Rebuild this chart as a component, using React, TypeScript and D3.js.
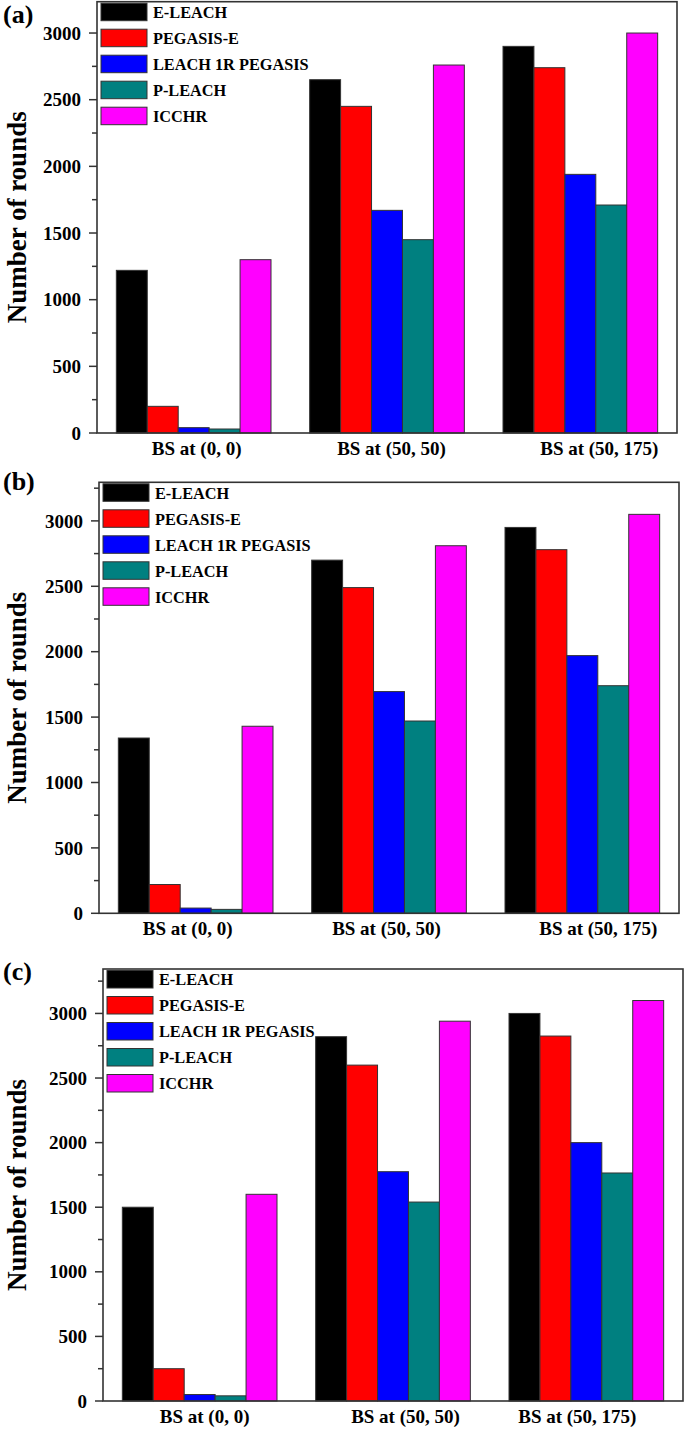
import React from "react";
import * as d3 from "d3";

const categories = ["BS at (0, 0)", "BS at (50, 50)", "BS at (50, 175)"];
const seriesNames = ["E-LEACH", "PEGASIS-E", "LEACH 1R PEGASIS", "P-LEACH", "ICCHR"];
const seriesColors = ["#000000", "#ff0000", "#0000ff", "#008080", "#ff00ff"];

// Panel (a)
const aELeach = [1220, 2650, 2900];
const aPegasisE = [200, 2450, 2740];
const aLeach1R = [40, 1670, 1940];
const aPLeach = [30, 1450, 1710];
const aIcchr = [1300, 2760, 3000];
// Panel (b)
const bELeach = [1340, 2700, 2950];
const bPegasisE = [220, 2490, 2780];
const bLeach1R = [40, 1695, 1970];
const bPLeach = [30, 1470, 1740];
const bIcchr = [1430, 2810, 3050];
// Panel (c)
const cELeach = [1500, 2820, 3000];
const cPegasisE = [250, 2600, 2825];
const cLeach1R = [50, 1775, 2000];
const cPLeach = [40, 1540, 1765];
const cIcchr = [1600, 2940, 3100];

const majorTicks = [0, 500, 1000, 1500, 2000, 2500, 3000];
const minorTicks = [250, 750, 1250, 1750, 2250, 2750, 3250];

const FONT = "'Liberation Serif', 'Times New Roman', serif";

const panels = [
  { label: "(a)", series: [aELeach, aPegasisE, aLeach1R, aPLeach, aIcchr], yMax: 3235,
    left: 97, right: 677, top: 1.7, bottom: 433, labelY: 23, labelDx: [3, 4.5, 19] },
  { label: "(b)", series: [bELeach, bPegasisE, bLeach1R, bPLeach, bIcchr], yMax: 3295,
    left: 99, right: 679, top: 482.3, bottom: 913.3, labelY: 490, labelDx: [-8, -2.5, 16] },
  { label: "(c)", series: [cELeach, cPegasisE, cLeach1R, cPLeach, cIcchr], yMax: 3344,
    left: 103, right: 683, top: 969, bottom: 1401, labelY: 980, labelDx: [5, 12.5, -9] },
];

function Panel({ p }: { p: typeof panels[number] }) {
  const x0 = d3.scaleBand<string>().domain(categories).range([p.left, p.right]).paddingInner(0.2).paddingOuter(0.1);
  const x1 = d3.scaleBand<string>().domain(seriesNames).range([0, x0.bandwidth()]).padding(0);
  const y = d3.scaleLinear().domain([0, p.yMax]).range([p.bottom, p.top]);
  const midY = (p.top + p.bottom) / 2;
  return (
    <g>
      <text x={3} y={p.labelY} fontFamily={FONT} fontWeight="bold" fontSize={26} fill="#000">{p.label}</text>
      <text transform={`translate(26,${midY}) rotate(-90)`} textAnchor="middle" fontFamily={FONT}
        fontWeight="bold" fontSize={27} fill="#000">Number of rounds</text>
      {categories.map((c, ci) =>
        seriesNames.map((s, si) => {
          const v = p.series[si][ci];
          return (
            <rect key={c + s} x={(x0(c) as number) + (x1(s) as number)} y={y(v)} width={x1.bandwidth()}
              height={p.bottom - y(v)} fill={seriesColors[si]} stroke="#333" strokeWidth={1} />
          );
        })
      )}
      <rect x={p.left} y={p.top} width={p.right - p.left} height={p.bottom - p.top} fill="none"
        stroke="#333" strokeWidth={1.6} />
      {majorTicks.filter((t) => t <= p.yMax).map((t) => (
        <g key={"M" + t}>
          <line x1={p.left - 8} x2={p.left} y1={y(t)} y2={y(t)} stroke="#333" strokeWidth={1.5} />
          <text x={p.left - 16} y={y(t)} dy="0.35em" textAnchor="end" fontFamily={FONT} fontWeight="bold"
            fontSize={19} fill="#000">{t}</text>
        </g>
      ))}
      {minorTicks.filter((t) => t <= p.yMax).map((t) => (
        <line key={"m" + t} x1={p.left - 5} x2={p.left} y1={y(t)} y2={y(t)} stroke="#333" strokeWidth={1.5} />
      ))}
      {categories.map((c, ci) => (
        <text key={"xl" + c} x={(x0(c) as number) + x0.bandwidth() / 2 + p.labelDx[ci]} y={p.bottom + 22}
          textAnchor="middle" fontFamily={FONT} fontWeight="bold" fontSize={19} fill="#000">{c}</text>
      ))}
      {seriesNames.map((s, si) => (
        <g key={"lg" + s} transform={`translate(${p.left + 4},${p.top + 1.5 + si * 26})`}>
          <rect x={0} y={0} width={46} height={17.5} fill={seriesColors[si]} stroke="#333" strokeWidth={1} />
          <text x={52} y={9} dy="0.35em" fontFamily={FONT} fontWeight="bold" fontSize={16.3} fill="#000">{s}</text>
        </g>
      ))}
    </g>
  );
}

export default function App() {
  return (
    <svg width={685} height={1430} style={{ position: "absolute", left: 0, top: 0, display: "block", background: "#fff" }}>
      <rect x={0} y={0} width={685} height={1430} fill="#fff" />
      {panels.map((p) => (
        <Panel key={p.label} p={p} />
      ))}
    </svg>
  );
}
